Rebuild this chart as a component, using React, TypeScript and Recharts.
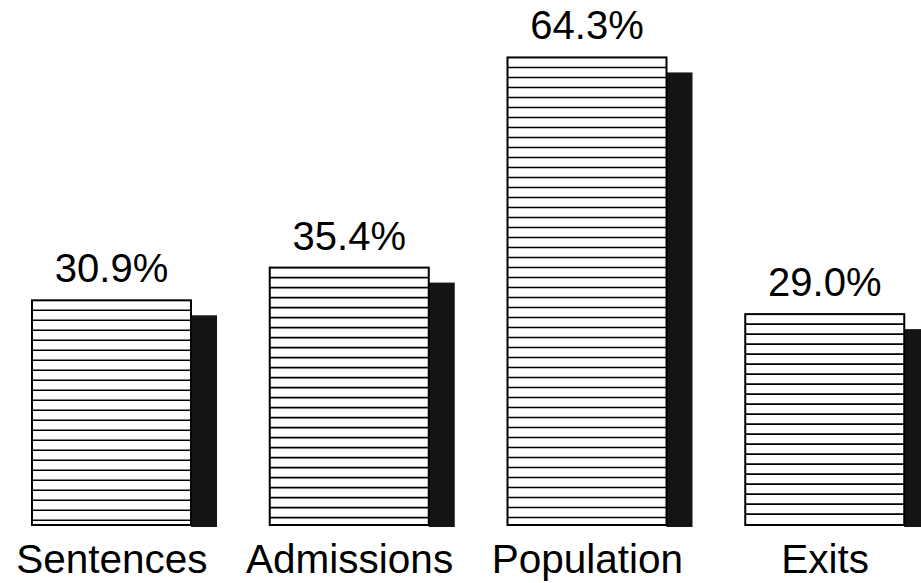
import { Bar, BarChart, LabelList, XAxis, YAxis } from "recharts";

// values
const categories = ["Sentences", "Admissions", "Population", "Exits"];
const shares = [30.9, 35.4, 64.3, 29.0];
const shareLabels = ["30.9%", "35.4%", "64.3%", "29.0%"];

const data = categories.map((name, i) => ({ name, share: shares[i], label: shareLabels[i] }));

const FONT = "'Liberation Sans', Arial, Helvetica, sans-serif";

// bar with horizontal rules and a dark drop shadow on the right
function HatchedBar(props: any) {
  const { x, y, width, height } = props;
  const rules: number[] = [];
  for (let ly = y + 10; ly < y + height - 3; ly += 10) rules.push(ly);

  return (
    <g>
      <rect x={x + width} y={y + 15} width={26} height={height - 13} fill="#141414" />
      <rect x={x} y={y} width={width} height={height} fill="#fff" stroke="#000" strokeWidth={2} />
      {rules.map((ly) => (
        <line key={ly} x1={x} x2={x + width} y1={ly} y2={ly} stroke="#000" strokeWidth={1.6} />
      ))}
    </g>
  );
}

function ShareLabel(props: any) {
  const { x, y, width, value } = props;
  return (
    <text x={x + width / 2} y={y - 18} textAnchor="middle" fontFamily={FONT} fontSize={40} fill="#000">
      {value}
    </text>
  );
}

function CategoryTick(props: any) {
  const { x, y, payload } = props;
  return (
    <text x={x} y={y + 40} textAnchor="middle" fontFamily={FONT} fontSize={40.5} fill="#000">
      {payload.value}
    </text>
  );
}

export default function App() {
  return (
    <div
      style={{
        position: "absolute",
        left: 0,
        top: 0,
        width: 921,
        height: 583,
        overflow: "hidden",
        background: "#fff"
      }}
    >
      <div style={{ position: "absolute", left: -7, top: 0 }}>
        <BarChart width={951} height={583} data={data} margin={{ top: 16, right: 0, left: 0, bottom: 0 }} barSize={159}>
          <XAxis dataKey="name" height={58} axisLine={false} tickLine={false} interval={0} tick={<CategoryTick />} />
          <YAxis hide domain={[0, 70]} />
          <Bar dataKey="share" shape={<HatchedBar />} isAnimationActive={false}>
            <LabelList dataKey="label" content={<ShareLabel />} />
          </Bar>
        </BarChart>
      </div>
    </div>
  );
}
